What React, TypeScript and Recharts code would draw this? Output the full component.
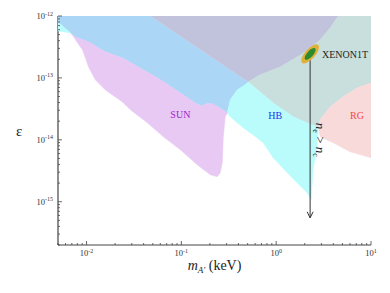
import React from 'react'
import {
  ComposedChart,
  Scatter,
  XAxis,
  YAxis,
  ReferenceDot,
} from 'recharts'

// m_A' in keV, epsilon (kinetic mixing); boundaries
const blueRegion = [
  { m: 5e-3, eps: 1e-12 },
  { m: 4.73e-2, eps: 1e-12 },
  { m: 0.507, eps: 8.6e-14 },
  { m: 0.449, eps: 7.43e-14 },
  { m: 0.388, eps: 6.4e-14 },
  { m: 0.328, eps: 4.42e-14 },
  { m: 0.305, eps: 2.72e-14 },
  { m: 0.245, eps: 3.4e-14 },
  { m: 0.212, eps: 3.81e-14 },
  { m: 0.183, eps: 3.81e-14 },
  { m: 0.163, eps: 3.53e-14 },
  { m: 0.144, eps: 3.81e-14 },
  { m: 9.76e-2, eps: 5.73e-14 },
  { m: 6.01e-2, eps: 9.3e-14 },
  { m: 5.33e-2, eps: 1.04e-13 },
  { m: 2.39e-2, eps: 2.1e-13 },
  { m: 1.58e-2, eps: 2.63e-13 },
  { m: 1.05e-2, eps: 3.81e-13 },
  { m: 7.66e-3, eps: 4.58e-13 },
  { m: 6.79e-3, eps: 5.3e-13 },
  { m: 5.58e-3, eps: 6.9e-13 },
  { m: 5e-3, eps: 8.0e-13 },
]

const xenonBand = [
  { m: 4.73e-2, eps: 1e-12 },
  { m: 4.5, eps: 1e-12 },
  { m: 3.7, eps: 6.4e-13 },
  { m: 2.9, eps: 4.1e-13 },
  { m: 2.02, eps: 2.63e-13 },
  { m: 1.47, eps: 1.95e-13 },
  { m: 1.1, eps: 1.5e-13 },
  { m: 0.679, eps: 1.12e-13 },
  { m: 0.507, eps: 8.6e-14 },
]

const upperRight = [
  { m: 4.5, eps: 1e-12 },
  { m: 10, eps: 1e-12 },
  { m: 10, eps: 8.3e-14 },
  { m: 7.12, eps: 6.9e-14 },
  { m: 5.07, eps: 4.94e-14 },
  { m: 3.7, eps: 3.4e-14 },
  { m: 2.9, eps: 2.1e-14 },
  { m: 2.77, eps: 1.62e-14 },
  { m: 2.34, eps: 1.75e-14 },
  { m: 1.51, eps: 2.35e-14 },
  { m: 0.929, eps: 3.95e-14 },
  { m: 0.507, eps: 8.6e-14 },
  { m: 0.679, eps: 1.12e-13 },
  { m: 1.1, eps: 1.5e-13 },
  { m: 1.47, eps: 1.95e-13 },
  { m: 2.02, eps: 2.63e-13 },
  { m: 2.9, eps: 4.1e-13 },
  { m: 3.7, eps: 6.4e-13 },
]

const hbRegion = [
  { m: 0.507, eps: 8.6e-14 },
  { m: 0.929, eps: 3.95e-14 },
  { m: 1.51, eps: 2.35e-14 },
  { m: 2.34, eps: 1.75e-14 },
  { m: 2.77, eps: 1.62e-14 },
  { m: 2.7, eps: 7.71e-15 },
  { m: 2.45, eps: 3.28e-15 },
  { m: 2.34, eps: 1.08e-15 },
  { m: 2.12, eps: 1.4e-15 },
  { m: 1.66, eps: 2.02e-15 },
  { m: 1.31, eps: 2.94e-15 },
  { m: 0.929, eps: 5.13e-15 },
  { m: 0.73, eps: 8.95e-15 },
  { m: 0.573, eps: 1.2e-14 },
  { m: 0.449, eps: 1.56e-14 },
  { m: 0.328, eps: 2.35e-14 },
  { m: 0.305, eps: 2.72e-14 },
  { m: 0.328, eps: 4.42e-14 },
  { m: 0.388, eps: 6.4e-14 },
  { m: 0.449, eps: 7.43e-14 },
]

const hbCorner = [
  { m: 5e-3, eps: 8.0e-13 },
  { m: 5.58e-3, eps: 6.9e-13 },
  { m: 6.79e-3, eps: 5.3e-13 },
  { m: 5e-3, eps: 5.73e-13 },
]

const sunRegion = [
  { m: 6.79e-3, eps: 5.3e-13 },
  { m: 7.66e-3, eps: 4.58e-13 },
  { m: 1.05e-2, eps: 3.81e-13 },
  { m: 1.58e-2, eps: 2.63e-13 },
  { m: 2.39e-2, eps: 2.1e-13 },
  { m: 5.33e-2, eps: 1.04e-13 },
  { m: 6.01e-2, eps: 9.3e-14 },
  { m: 9.76e-2, eps: 5.73e-14 },
  { m: 0.144, eps: 3.81e-14 },
  { m: 0.163, eps: 3.53e-14 },
  { m: 0.183, eps: 3.81e-14 },
  { m: 0.212, eps: 3.81e-14 },
  { m: 0.245, eps: 3.4e-14 },
  { m: 0.305, eps: 2.72e-14 },
  { m: 0.29, eps: 2.35e-14 },
  { m: 0.277, eps: 1.12e-14 },
  { m: 0.27, eps: 4.26e-15 },
  { m: 0.257, eps: 2.94e-15 },
  { m: 0.239, eps: 2.53e-15 },
  { m: 0.202, eps: 2.72e-15 },
  { m: 0.147, eps: 3.95e-15 },
  { m: 9.76e-2, eps: 6.9e-15 },
  { m: 6.47e-2, eps: 1.12e-14 },
  { m: 4.38e-2, eps: 1.88e-14 },
  { m: 2.9e-2, eps: 3.05e-14 },
  { m: 2.39e-2, eps: 4.1e-14 },
  { m: 1.58e-2, eps: 6.4e-14 },
  { m: 1.24e-2, eps: 9.3e-14 },
  { m: 1.05e-2, eps: 1.5e-13 },
  { m: 9.08e-3, eps: 2.83e-13 },
  { m: 7.66e-3, eps: 4.1e-13 },
]

const rgRegion = [
  { m: 2.77, eps: 1.62e-14 },
  { m: 2.9, eps: 2.1e-14 },
  { m: 3.7, eps: 3.4e-14 },
  { m: 5.07, eps: 4.94e-14 },
  { m: 7.12, eps: 6.9e-14 },
  { m: 10, eps: 8.3e-14 },
  { m: 10, eps: 5.13e-15 },
  { m: 6.01, eps: 6.4e-15 },
  { m: 3.98, eps: 8.95e-15 },
  { m: 2.9, eps: 1.12e-14 },
]

// XENON1T best fit point and the arrow down to the n_e > n_c end
const xenonFit = { m: 2.28, eps: 2.44e-13 }
const arrowEnd = { m: 2.28, eps: 5.5e-16 }
const arrowPath = [xenonFit, arrowEnd]

const xTicks = [
  0.005, 0.006, 0.007, 0.008, 0.009,
  0.01, 0.02, 0.03, 0.04, 0.05, 0.06, 0.07, 0.08, 0.09,
  0.1, 0.2, 0.3, 0.4, 0.5, 0.6, 0.7, 0.8, 0.9,
  1, 2, 3, 4, 5, 6, 7, 8, 9, 10,
]
const yTicks = [
  2e-16, 3e-16, 4e-16, 5e-16, 6e-16, 7e-16, 8e-16, 9e-16,
  1e-15, 2e-15, 3e-15, 4e-15, 5e-15, 6e-15, 7e-15, 8e-15, 9e-15,
  1e-14, 2e-14, 3e-14, 4e-14, 5e-14, 6e-14, 7e-14, 8e-14, 9e-14,
  1e-13, 2e-13, 3e-13, 4e-13, 5e-13, 6e-13, 7e-13, 8e-13, 9e-13,
  1e-12,
]

const SERIF = '"Liberation Serif", "DejaVu Serif", serif'
const AXIS = '#444'

const isMajor = (v: number) => Math.abs(Math.log10(v) - Math.round(Math.log10(v))) < 1e-6
const exp = (v: number) => Math.round(Math.log10(v))

const Pow = ({ x, y, v, anchor }: any) => (
  <text x={x} y={y} textAnchor={anchor} fontFamily={SERIF} fill="#333">
    <tspan fontSize={8.5}>10</tspan>
    <tspan fontSize={6} dy={-3.5}>{exp(v)}</tspan>
  </text>
)

const tickFor = (side: 'bottom' | 'top' | 'left' | 'right') => (props: any) => {
  const { x, y, payload } = props
  const v = payload.value
  const len = isMajor(v) ? 4 : 2
  let line
  if (side === 'bottom') line = <line x1={x} x2={x} y1={y} y2={y - len} stroke={AXIS} strokeWidth={0.8} />
  else if (side === 'top') line = <line x1={x} x2={x} y1={y} y2={y + len} stroke={AXIS} strokeWidth={0.8} />
  else if (side === 'left') line = <line x1={x} x2={x + len} y1={y} y2={y} stroke={AXIS} strokeWidth={0.8} />
  else line = <line x1={x} x2={x - len} y1={y} y2={y} stroke={AXIS} strokeWidth={0.8} />
  return (
    <g>
      {line}
      {isMajor(v) && side === 'bottom' && <Pow x={x} y={y + 11} v={v} anchor="middle" />}
      {isMajor(v) && side === 'left' && <Pow x={x - 5} y={y + 3} v={v} anchor="end" />}
    </g>
  )
}

const XLabel = ({ viewBox }: any) => {
  const cx = viewBox.x + viewBox.width / 2
  return (
    <text x={cx} y={viewBox.y + 25} textAnchor="middle" fontFamily={SERIF} fontSize={14} fill="#222">
      <tspan fontStyle="italic">m</tspan>
      <tspan fontStyle="italic" fontSize={9} dy={3}>A′</tspan>
      <tspan dy={-3}> (keV)</tspan>
    </text>
  )
}

const none = () => <g />

const region = (data: any[], color: string, key: string) => (
  <Scatter
    key={key}
    data={data}
    dataKey="eps"
    fill={color}
    line={{ fill: color, stroke: color, strokeWidth: 0.5 }}
    shape={none}
    isAnimationActive={false}
  />
)

const tag = (text: string, color: string) => (p: any) => (
  <text x={p.cx} y={p.cy} textAnchor="middle" dominantBaseline="central" fontFamily={SERIF} fontSize={10} fill={color}>
    {text}
  </text>
)

export default function App() {
  return (
    <div style={{ width: 390, height: 293, background: '#fff' }}>
      <style>{'body{margin:0}'}</style>
      <ComposedChart width={390} height={293} margin={{ top: 16, right: 19, bottom: 0, left: 0 }}>
        <XAxis
          dataKey="m"
          type="number"
          scale="log"
          domain={[0.005, 10]}
          allowDataOverflow
          ticks={xTicks}
          interval={0}
          height={48}
          tickSize={0}
          tickMargin={0}
          tick={tickFor('bottom')}
          axisLine={{ stroke: AXIS, strokeWidth: 1.2 }}
          label={<XLabel />}
        />
        <XAxis
          xAxisId="top"
          orientation="top"
          dataKey="m"
          type="number"
          scale="log"
          domain={[0.005, 10]}
          allowDataOverflow
          ticks={xTicks}
          interval={0}
          height={0}
          tickSize={0}
          tickMargin={0}
          tick={tickFor('top')}
          axisLine={{ stroke: '#7a7a7a', strokeWidth: 2 }}
        />
        <YAxis
          dataKey="eps"
          type="number"
          scale="log"
          domain={[2e-16, 1e-12]}
          allowDataOverflow
          ticks={yTicks}
          interval={0}
          width={58}
          tickSize={0}
          tickMargin={0}
          tick={tickFor('left')}
          axisLine={{ stroke: AXIS, strokeWidth: 1.2 }}
          label={{ value: 'ε', position: 'insideLeft', offset: 16, fontSize: 15, fill: '#222', fontFamily: SERIF }}
        />
        <YAxis
          yAxisId="right"
          orientation="right"
          dataKey="eps"
          type="number"
          scale="log"
          domain={[2e-16, 1e-12]}
          allowDataOverflow
          ticks={yTicks}
          interval={0}
          width={0}
          tickSize={0}
          tickMargin={0}
          tick={tickFor('right')}
          axisLine={{ stroke: AXIS, strokeWidth: 1.2 }}
        />
        {region(blueRegion, '#acd6f6', 'blue')}
        {region(xenonBand, '#c1c3dc', 'xenon')}
        {region(upperRight, '#c8dfdd', 'ur')}
        {region(hbRegion, '#bafcfc', 'hb')}
        {region(hbCorner, '#bafcfc', 'hbc')}
        {region(sunRegion, '#e8c9f4', 'sun')}
        {region(rgRegion, '#f9dada', 'rg')}
        <Scatter
          data={arrowPath}
          dataKey="eps"
          fill="#333"
          line={{ stroke: '#333', strokeWidth: 1, fill: 'none' }}
          shape={none}
          isAnimationActive={false}
        />
        <ReferenceDot
          x={arrowEnd.m}
          y={arrowEnd.eps}
          shape={(p: any) => (
            <path d={`M${p.cx - 3},${p.cy - 6}L${p.cx},${p.cy}L${p.cx + 3},${p.cy - 6}`} stroke="#333" fill="none" strokeWidth={1} />
          )}
        />
        <ReferenceDot
          x={xenonFit.m}
          y={xenonFit.eps}
          shape={(p: any) => (
            <g transform={`translate(${p.cx},${p.cy}) rotate(-48)`}>
              <ellipse rx={12} ry={5} fill="#e0b13a" />
              <ellipse rx={7.5} ry={3} fill="#2e8a2e" />
            </g>
          )}
        />
        <ReferenceDot x={9.76e-2} y={2.53e-14} shape={tag('SUN', '#a01fcf')} />
        <ReferenceDot x={0.975} y={2.44e-14} shape={tag('HB', '#2036f0')} />
        <ReferenceDot x={7.12} y={2.44e-14} shape={tag('RG', '#f04848')} />
        <ReferenceDot x={5.32} y={2.35e-13} shape={tag('XENON1T', '#222')} />
        <ReferenceDot
          x={2.64}
          y={1e-14}
          shape={(p: any) => (
            <text transform={`translate(${p.cx},${p.cy}) rotate(90)`} textAnchor="middle" fontFamily={SERIF} fontSize={13} fill="#222">
              <tspan fontStyle="italic">n</tspan>
              <tspan fontSize={8} dy={3}>e</tspan>
              <tspan dy={-3}> &gt; </tspan>
              <tspan fontStyle="italic">n</tspan>
              <tspan fontSize={8} dy={3}>c</tspan>
            </text>
          )}
        />
      </ComposedChart>
    </div>
  )
}
